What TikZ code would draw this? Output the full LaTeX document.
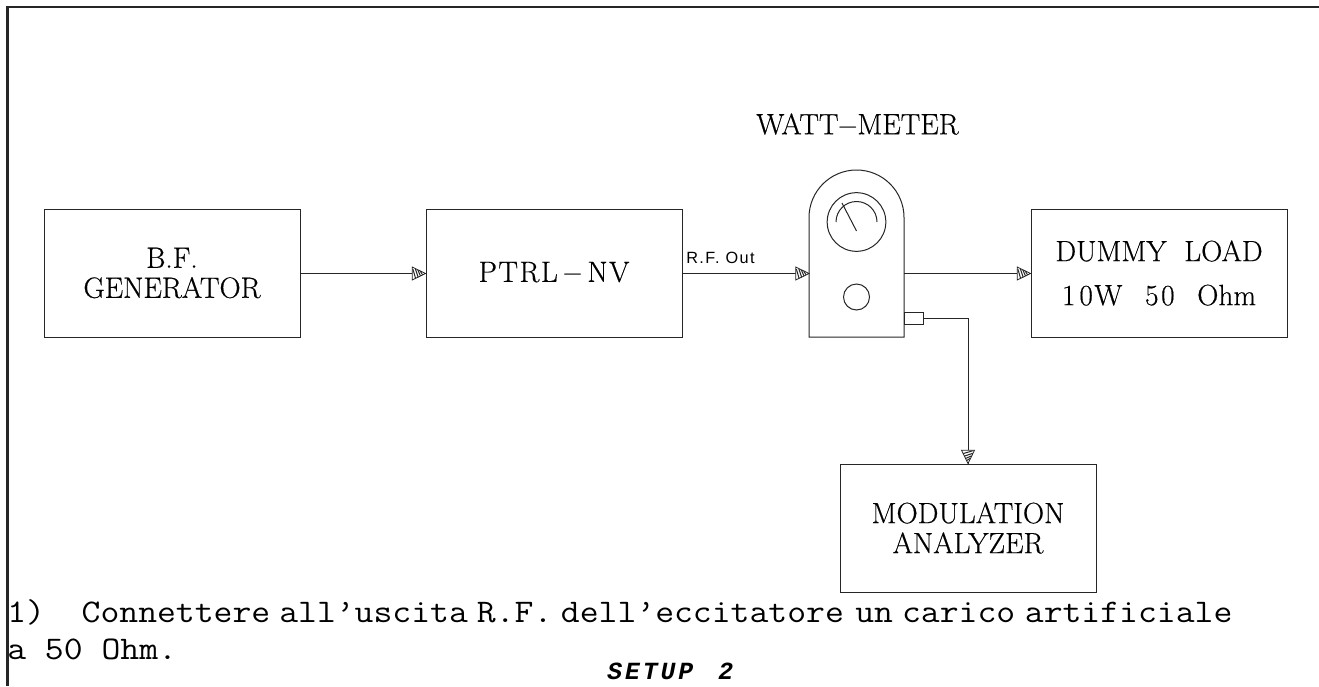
\documentclass[tikz,border=0pt]{standalone}
\usepackage{fontspec}
\usetikzlibrary{decorations.markings}
\newfontfamily\cadfont[FakeBold=0.5]{Latin Modern Roman}
\newfontfamily\cadwide[FakeBold=0.5,LetterSpace=5]{Latin Modern Roman}
\newfontfamily\notefont[FakeStretch=1.11]{Latin Modern Mono}
\newfontfamily\smallfont[LetterSpace=9]{Liberation Sans}
\newfontfamily\setupfont[LetterSpace=12]{Liberation Mono}
\tikzset{
  x=0.75pt,y=-0.75pt,
  wire/.style={draw=black!85,line width=0.75pt},
  unit/.style={draw=black!85,line width=0.75pt,minimum width=192pt,minimum height=96pt,inner sep=0pt,align=center,font=\cadfont\fontsize{22}{22.5}\selectfont},
  hatchtip/.style={postaction={decorate,decoration={markings,mark=at position 1 with {
    \draw[line width=0.6pt,fill=white] (0pt,0pt)--(-10pt,4.9pt)--(-10pt,-4.9pt)--cycle;
    \draw[line width=0.75pt] (-9.5pt,3.4pt)--(-7.4pt,-3.8pt) (-7.6pt,3.5pt)--(-5.5pt,-2.8pt) (-5.7pt,2.6pt)--(-3.8pt,-1.8pt) (-3.9pt,1.7pt)--(-2.2pt,-1pt);
  }}}},
  meter/.style={draw=black!85,line width=0.75pt},
  notetext/.style={anchor=base west,inner sep=0pt,font=\notefont\fontsize{24.75}{28}\selectfont},
}
\begin{document}
\begin{tikzpicture}
\useasboundingbox (0,0) rectangle (1319,686);
\fill[white] (0,0) rectangle (1319,686);
\draw[line width=1.9pt,black!85] (7.5,686)--(7.5,7)--(1319,7);
\node[unit] (gen) at (172,273) {B.F.\\GENERATOR};
\node[unit] (ptrl) at (554,273) {{\cadwide PTRL}\hspace{3pt}$-$\hspace{3pt}{\cadwide NV}};
\node[unit] (dummy) at (1159,273) {DUMMY\hspace{0.6em}LOAD\\[10.5pt]{\cadwide 1\hspace{3pt}0W}\hspace{17pt}{\cadwide 5\hspace{2pt}0}\hspace{17pt}Ohm};
\node[unit] (mod) at (968,528) {MODULATION\\ANALYZER};
\coordinate (wl) at (809,273.5);
\coordinate (wr) at (904,273.5);
\draw[meter] (809,337)--(809,217.5) arc[start angle=180,end angle=0,radius=35.625pt]--(904,337)--cycle;
\node[draw=black!85,line width=0.75pt,circle,minimum size=44pt,inner sep=0pt] (dial) at (856.5,222) {};
\node[draw=black!85,line width=0.75pt,circle,minimum size=19.5pt,inner sep=0pt] (knob) at (856.5,297) {};
\draw[meter] (836,222) arc[start angle=180,end angle=0,radius=15.375pt];
\draw[meter] (856.5,231)--(842,203);
\node[draw=black!85,line width=0.75pt,minimum width=14.6pt,minimum height=9pt,inner sep=0pt] (port) at (913.75,318) {};
\node[font=\cadfont\fontsize{22}{29}\selectfont,inner sep=0pt] (wm) at (857.5,125) {WATT\hspace{-1pt}$-$\hspace{-1pt}METER};
\node[anchor=base west,inner sep=0pt,font=\smallfont\fontsize{12.2}{14}\selectfont] (rf) at (686,263.5) {R.F. Out};
\draw[wire,hatchtip] (gen.east|-wl)--(ptrl.west|-wl);
\draw[wire,hatchtip] (ptrl.east|-wl)--(wl);
\draw[wire,hatchtip] (wr)--(dummy.west|-wr);
\draw[wire,hatchtip] (port.east)-|(mod.north);
\node[notetext] (l1) at (7,622) {1)\hspace{27.5pt}Connettere\hspace{6.75pt}all’uscita\hspace{6.75pt}R.F.\hspace{6.4pt}dell’eccitatore\hspace{8.6pt}un\hspace{6.75pt}carico\hspace{7.2pt}artificiale};
\node[notetext] (l2) at (7,659) {a 50 Ohm.};
\node[anchor=base west,inner sep=0pt,font=\setupfont\bfseries\itshape\fontsize{18.5}{20}\selectfont] (setup) at (607,679) {SETUP\hspace{19pt}2};
\end{tikzpicture}
\end{document}
